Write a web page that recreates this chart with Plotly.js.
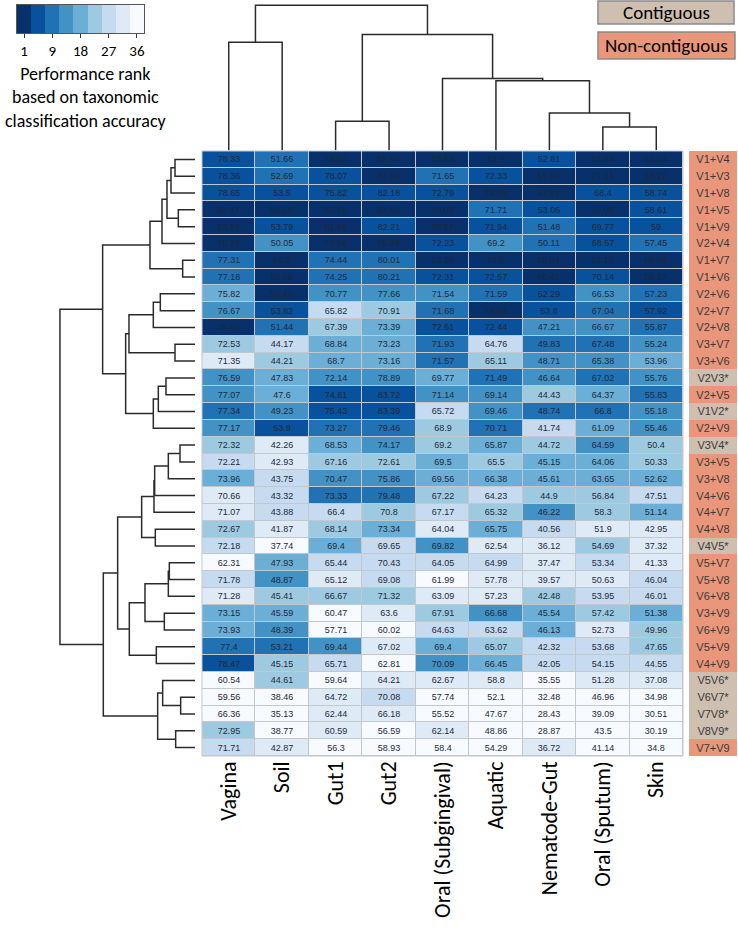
<!DOCTYPE html>
<html><head><meta charset="utf-8">
<script src="https://cdn.plot.ly/plotly-3.0.1.min.js"></script>
<style>html,body{margin:0;padding:0;background:#fff;}</style>
</head><body><div id="chart" style="width:738px;height:939px;"></div>
<script>
// ---------------- data ----------------
const columns = ['Vagina','Soil','Gut1','Gut2','Oral (Subgingival)','Aquatic','Nematode-Gut','Oral (Sputum)','Skin'];
const rowLabels = ['V1+V4','V1+V3','V1+V8','V1+V5','V1+V9','V2+V4','V1+V7','V1+V6','V2+V6','V2+V7','V2+V8','V3+V7','V3+V6','V2V3*','V2+V5','V1V2*','V2+V9','V3V4*','V3+V5','V3+V8','V4+V6','V4+V7','V4+V8','V4V5*','V5+V7','V5+V8','V6+V8','V3+V9','V6+V9','V5+V9','V4+V9','V5V6*','V6V7*','V7V8*','V8V9*','V7+V9'];
const vagina = [78.33,78.36,78.65,82.47,83.27,78.78,77.31,77.18,75.82,76.67,79.49,72.53,71.35,76.59,77.07,77.34,77.17,72.32,72.21,73.96,70.66,71.07,72.67,72.18,62.31,71.78,71.28,73.15,73.93,77.4,78.47,60.54,59.56,66.36,72.95,71.71];
const soil = [51.66,52.69,53.5,54.29,53.79,50.05,54.3,55.09,54.43,53.82,51.44,44.17,44.21,47.83,47.6,49.23,53.9,42.26,42.93,43.75,43.32,43.88,41.87,37.74,47.93,48.87,45.41,45.59,48.39,53.21,45.15,44.61,38.46,35.13,38.77,42.87];
const gut1 = [79.96,78.07,75.82,82.55,81.69,78.54,74.44,74.25,70.77,65.82,67.39,68.84,68.7,72.14,74.81,75.43,73.27,68.53,67.16,70.47,73.33,66.4,68.14,69.4,65.44,65.12,66.67,60.47,57.71,69.44,65.71,59.64,64.72,62.44,60.59,56.3];
const gut2 = [85.97,83.99,82.18,84.93,82.21,85.93,80.01,80.21,77.66,70.91,73.39,73.23,73.16,78.89,83.72,83.39,79.46,74.17,72.61,75.86,79.48,70.8,73.34,69.65,70.43,69.08,71.32,63.6,60.02,67.02,62.81,64.21,70.08,66.18,56.59,58.93];
const oralSub = [73.52,71.65,72.79,78.03,78.57,72.23,73.79,72.31,71.54,71.68,72.61,71.93,71.57,69.77,71.14,65.72,68.9,69.2,69.5,69.56,67.22,67.17,64.04,69.82,64.05,61.99,63.09,67.91,64.63,69.4,70.09,62.67,57.74,55.52,62.14,58.4];
const aquatic = [73.2,72.33,73.69,71.71,71.94,69.2,73.5,72.57,71.59,72.84,72.44,64.76,65.11,71.49,69.14,69.46,70.71,65.87,65.5,66.38,64.23,65.32,65.75,62.54,64.99,57.78,57.23,66.68,63.62,65.07,66.45,58.8,52.1,47.67,48.86,54.29];
const nematodeGut = [52.81,53.96,53.91,53.06,51.48,50.11,58.04,56.41,52.29,53.8,47.21,49.83,48.71,46.64,44.43,48.74,41.74,44.72,45.15,45.61,44.9,46.22,40.56,36.12,37.47,39.57,42.48,45.54,46.13,42.32,42.05,35.55,32.48,28.43,28.87,36.72];
const oralSputum = [71.93,71.31,68.4,72.06,69.77,68.57,71.15,70.14,66.53,67.04,66.67,67.48,65.38,67.02,64.37,66.8,61.09,64.59,64.06,63.65,56.84,58.3,51.9,54.69,53.34,50.63,53.95,57.42,52.73,53.68,54.15,51.28,46.96,39.09,43.5,41.14];
const skin = [60.24,59.22,58.74,58.61,59,57.45,60.08,59.67,57.23,57.92,55.87,55.24,53.96,55.76,55.83,55.18,55.46,50.4,50.33,52.62,47.51,51.14,42.95,37.32,41.33,46.04,46.01,51.38,49.96,47.65,44.55,37.08,34.98,30.51,30.19,34.8];

// dendrogram merges: [childA, childB, height]; leaves 0..n-1, merge k creates node n+k
const rowLinkage = [
  [0,1,60],[36,2,72],[3,4,50],[37,38,84],[39,5,99],[6,7,37],[40,41,135],
  [8,9,104],[43,10,125],[11,12,60],[44,45,198],[13,14,87],[47,15,110],[48,16,125],
  [46,49,208],[42,50,277],
  [17,18,45],[52,19,80],[53,20,121],[54,21,123],[22,23,119],[55,56,160],
  [24,25,77],[58,26,80],[27,28,92],[59,60,150],[29,30,116],[61,62,197],[57,63,232],
  [32,33,43],[31,65,97],[34,35,58],[66,67,112],[64,68,275],[51,69,405]
];
const colLinkage = [[7,8,23.5],[6,9,37.7],[5,10,69.9],[4,11,72],[2,3,29.4],[13,12,116],[0,1,108.4],[15,14,145.4]];

const rankTicks = ['1','9','18','27','36'];
const rankBins = [1,2,3,4,5,6,7,8,9];

// ---------------- build ----------------
const W = 738, H = 939;
const fx = p => p / W, fy = p => 1 - p / H;
const blues = ['#08306b','#08519c','#2171b5','#4292c6','#6baed6','#9ecae1','#c6dbef','#deebf7','#f7fbff'];
const cs = [];
blues.forEach((c,i)=>{cs.push([i/9,c]);cs.push([(i+1)/9,c]);});
const salmon = '#E9967A', tan = '#CEBFB0';
const labelFont = "Carlito, 'Noto Sans', sans-serif";

const series = [vagina, soil, gut1, gut2, oralSub, aquatic, nematodeGut, oralSputum, skin];
const nR = rowLabels.length, nC = columns.length;
const z = [], txt = [];
for (let r = 0; r < nR; r++) { z.push([]); txt.push([]); }
series.forEach((s, c) => {
  const order = s.map((v,i)=>i).sort((a,b)=> s[b]-s[a]);
  order.forEach((ri, k) => { z[ri][c] = Math.ceil((k+1) * blues.length / nR); });
  s.forEach((v, ri) => { txt[ri][c] = String(v); });
});
const rowIdx = rowLabels.map((_,i)=>i), colIdx = columns.map((_,i)=>i);

function dendro(linkage, n) {
  const pos = [], hgt = [], hs = [], ps = [];
  for (let i = 0; i < n; i++) { pos[i] = i; hgt[i] = 0; }
  linkage.forEach(([a,b,h],k) => {
    hs.push(hgt[a], h, h, hgt[b], null);
    ps.push(pos[a], pos[a], pos[b], pos[b], null);
    pos[n+k] = (pos[a]+pos[b])/2; hgt[n+k] = h;
  });
  return {hs, ps};
}
const rd = dendro(rowLinkage, nR), cd = dendro(colLinkage, nC);

const traces = [
  {type:'heatmap', x: colIdx, y: rowIdx, z: z, text: txt, texttemplate:'%{text}',
   textfont:{family:'Liberation Sans, Arial, sans-serif', size:9, color:'#1e2a3a'},
   colorscale: cs, zmin:0.5, zmax:9.5, showscale:false, xgap:1, ygap:1, hoverinfo:'skip', xaxis:'x', yaxis:'y'},
  {type:'heatmap', x:[0], y: rowIdx, z: rowLabels.map(l=>[l.includes('*')?1:0]), text: rowLabels.map(l=>[l]),
   texttemplate:'%{text}', textfont:{family:'Liberation Sans, Arial, sans-serif', size:11, color:'#3a3a3a'},
   colorscale:[[0,salmon],[0.5,salmon],[0.5,tan],[1,tan]], zmin:0, zmax:1, showscale:false, hoverinfo:'skip', xaxis:'x2', yaxis:'y'},
  {type:'scatter', mode:'lines', x: rd.hs, y: rd.ps, line:{color:'#2b2b2b', width:1.5}, hoverinfo:'skip', xaxis:'x3', yaxis:'y', connectgaps:false},
  {type:'scatter', mode:'lines', x: cd.ps, y: cd.hs, line:{color:'#2b2b2b', width:1.5}, hoverinfo:'skip', xaxis:'x', yaxis:'y4', connectgaps:false},
  {type:'heatmap', x: rankBins, y:[0], z:[rankBins], colorscale: cs, zmin:0.5, zmax:9.5, showscale:false, hoverinfo:'skip', xaxis:'x5', yaxis:'y5'}
];

const hid = {visible:false, showgrid:false, zeroline:false, fixedrange:true};
const layout = {
  width: W, height: H, margin:{l:0,r:0,t:0,b:0}, showlegend:false,
  paper_bgcolor:'#fff', plot_bgcolor:'rgba(0,0,0,0)',
  xaxis:{domain:[fx(202),fx(683)], range:[-0.5,8.5], anchor:'y', tickvals: colIdx, ticktext: columns,
         tickangle:-90, tickfont:{family:labelFont, size:22, color:'#000'}, ticks:'', showgrid:false, zeroline:false, showline:false},
  yaxis:{domain:[fy(756),fy(151)], range:[35.5,-0.5], anchor:'x', showticklabels:false, ticks:'', showgrid:false, zeroline:false},
  xaxis2:Object.assign({domain:[fx(689),fx(737)], range:[-0.5,0.5], anchor:'y'}, hid),
  xaxis3:Object.assign({domain:[fx(58.3),fx(195)], range:[410,0], anchor:'y'}, hid),
  yaxis4:Object.assign({domain:[fy(150.6),fy(2.6)], range:[0,148], anchor:'x'}, hid),
  xaxis5:{domain:[fx(17),fx(144)], range:[0.5,9.5], anchor:'y5', tickvals:[1,3,5,7,9], ticktext: rankTicks,
          ticks:'outside', ticklen:4, tickcolor:'#333', tickfont:{family:labelFont, size:15, color:'#000'},
          showline:true, mirror:true, linecolor:'#555', linewidth:1, showgrid:false, zeroline:false},
  yaxis5:{domain:[fy(33),fy(5)], range:[-0.5,0.5], anchor:'x5', showticklabels:false, ticks:'', showline:true, mirror:true, linecolor:'#555', linewidth:1, showgrid:false, zeroline:false},
  shapes:[
    {type:'rect', xref:'x domain', yref:'y domain', x0:0, x1:1, y0:0, y1:1, layer:'below', fillcolor:'#c3c8cd', line:{width:0}},
    {type:'rect', xref:'x domain', yref:'y domain', x0:0, x1:1, y0:0, y1:1, layer:'above', line:{color:'#c3c8cd', width:1}},
    {type:'rect', xref:'paper', yref:'paper', x0:fx(598), x1:fx(734), y0:fy(24), y1:fy(1), fillcolor:tan, line:{color:'#8a8a8a', width:1.5}},
    {type:'rect', xref:'paper', yref:'paper', x0:fx(598), x1:fx(735), y0:fy(59), y1:fy(32), fillcolor:salmon, line:{color:'#8a8a8a', width:1.5}}
  ],
  annotations:[
    {xref:'paper', yref:'paper', x:fx(666), y:fy(12.5), text:'Contiguous', showarrow:false, font:{family:labelFont, size:19, color:'#000'}, xanchor:'center', yanchor:'middle'},
    {xref:'paper', yref:'paper', x:fx(666), y:fy(45.5), text:'Non-contiguous', showarrow:false, font:{family:labelFont, size:19, color:'#000'}, xanchor:'center', yanchor:'middle'},
    {xref:'paper', yref:'paper', x:fx(86), y:fy(98), text:'Performance rank<br>based on taxonomic<br>classification accuracy', showarrow:false,
     font:{family:labelFont, size:18, color:'#000'}, align:'center', xanchor:'center', yanchor:'middle'}
  ]
};
Plotly.newPlot('chart', traces, layout, {displayModeBar:false, staticPlot:true});
</script></body></html>
